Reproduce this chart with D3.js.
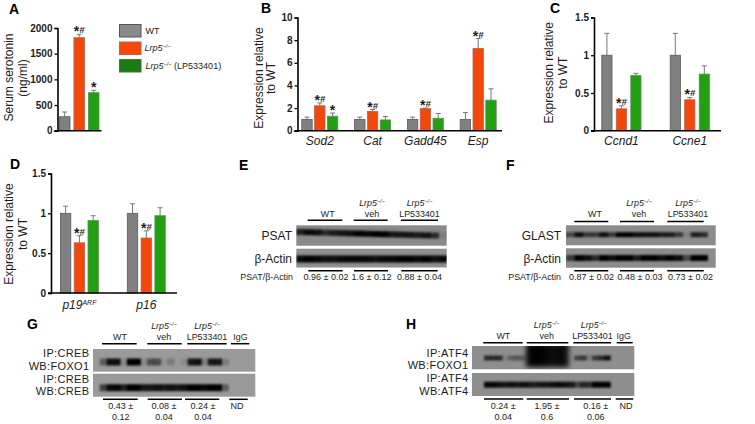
<!DOCTYPE html>
<html><head><meta charset="utf-8">
<script src="https://cdn.jsdelivr.net/npm/d3@7"></script>
<style>html,body{margin:0;padding:0;background:#fff}svg{display:block}text{font-family:"Liberation Sans",Arial,sans-serif;fill:#1c1c1c}</style>
</head><body><svg id="c" width="755" height="424"></svg>
<script>
// ---- data ----
const seriesNames = ["WT", "Lrp5", "Lrp5 (LP533401)"];
const catA = ["Serum serotonin"];
const wtA = [272], koA = [1811], lpA = [740];
const wtAe = [92], koAe = [66], lpAe = [47];
const marksA = [["", "*#", "*"]];
const catB = ["Sod2", "Cat", "Gadd45", "Esp"];
const wtB = [1, 1, 1, 1], koB = [2.2, 1.7, 1.95, 7.26], lpB = [1.28, 0.95, 1.1, 2.7];
const wtBe = [0.2, 0.2, 0.2, 0.6], koBe = [0.25, 0.17, 0.05, 0.88], lpBe = [0.28, 0.3, 0.42, 1];
const marksB = [["", "*#", "*"], ["", "*#", ""], ["", "*#", ""], ["", "*#", ""]];
const catC = ["Ccnd1", "Ccne1"];
const wtC = [1, 1], koC = [0.29, 0.41], lpC = [0.73, 0.75];
const wtCe = [0.29, 0.29], koCe = [0.04, 0.03], lpCe = [0.03, 0.11];
const marksC = [["", "*#", ""], ["", "*#", ""]];
const catD = ["p19", "p16"];
const wtD = [1, 1], koD = [0.63, 0.69], lpD = [0.91, 0.97];
const wtDe = [0.09, 0.12], koDe = [0.09, 0.09], lpDe = [0.06, 0.1];
const marksD = [["", "*#", ""], ["", "*#", ""]];
const ticksA = [0, 500, 1000, 1500, 2000], ticksB = [0, 2, 4, 6, 8, 10], ticksC = [0, 0.5, 1, 1.5];
// blot density profiles (one value per lane slice)
const psat = [.8,.95,.9,.7,.8,.85,.9,1,.95,1,1,.85,.85,.85,.8,.85,.7,.1];
const actinE = [.95,1,.95,.9,.9,.95,.95,.95,.95,.9,.95,.95,1,1,.95,1,.9,.95];
const glast = [.5,.9,.6,.6,.9,.6,1,1,.9,.9,.9,.8,.8,.6,.1,.8,.7,0];
const actinF = [.6,1,.9,.7,1,.9,1,1,.8,1,1,.9,1,.9,.5,1,1,0];
const gFoxo = [0,.4,.9,.9,.1,1,1,.1,.5,.5,.05,.2,0,.1,.85,.9,.2,.85,.85,.2,0,0,0,0];
const gCreb = [0,.6,.95,.95,.8,1,1,.85,.85,.9,.85,.9,.85,.9,1,1,.95,1,1,.4,0,0,0,0];
const hFoxo = [0,0,.7,.7,.7,.1,.35,.4,.3,0,0,0,0,0,0,0,0,.5,.6,.15,.6,.7,.9,0,0,0,0];
const hFoxoBlob = [0,0,0,0,0,0,0,0,0,.95,1,1,.95,.9,.95,.9,0,0,0,0,0,0,0,0,0,0,0];
const hAtf = [0,0,.95,.95,.9,.85,.9,.85,.9,.85,.8,.85,.85,.9,.95,.9,.85,.55,.75,.7,1,1,1,0,0,0,0];
const valuesE = ["0.96 ± 0.02", "1.6 ± 0.12", "0.88 ± 0.04"];
const valuesF = ["0.87 ± 0.02", "0.48 ± 0.03", "0.73 ± 0.02"];
const valuesG = [["0.43 ±", "0.12"], ["0.08 ±", "0.04"], ["0.24 ±", "0.04"], ["ND", ""]];
const valuesH = [["0.24 ±", "0.04"], ["1.95 ±", "0.6"], ["0.16 ±", "0.06"], ["ND", ""]];

// ---- helpers ----
const svg = d3.select("#c");
const colors = d3.scaleOrdinal(seriesNames, ["#808080", "#f2480c", "#22a012"]);
const strokes = d3.scaleOrdinal(seriesNames, ["#5a5a5a", "#b9634a", "#5c8f55"]);
const defs = svg.append("defs");
[["blur", 1.0], ["big", 2.4], ["soft", 0.5]].forEach(([id, s]) =>
  defs.append("filter").attr("id", id).attr("x", "-20%").attr("y", "-80%").attr("width", "140%").attr("height", "260%")
    .append("feGaussianBlur").attr("stdDeviation", s));

function txt(x, y, s, o = {}) {
  const t = svg.append("text").attr("x", x).attr("y", y).text(s)
    .attr("font-size", o.size || 10).attr("text-anchor", o.anchor || "start");
  if (o.bold) t.attr("font-weight", "bold");
  if (o.italic) t.attr("font-style", "italic");
  if (o.rot) t.attr("transform", `rotate(-90 ${x} ${y})`);
  return t;
}
function two(x, y, a, b) {
  txt(x, y, a, { size: 11, anchor: "end" }).style("letter-spacing", ".35px");
  txt(x, y + 12.7, b, { size: 11, anchor: "end" }).style("letter-spacing", ".35px");
}
function lrp(x, y, size, anchor, extra) {
  const t = svg.append("text").attr("x", x).attr("y", y).attr("font-size", size).attr("text-anchor", anchor || "start");
  t.append("tspan").attr("font-style", "italic").text("Lrp5");
  t.append("tspan").attr("font-style", "italic").attr("font-size", size * .62).attr("dy", -size * .36).text("−/−");
  if (extra) t.append("tspan").attr("dy", size * .36).text(extra);
  return t;
}
function panel(o) {
  const y = d3.scaleLinear().domain(o.domain).range([o.y0, o.y1]);
  const cx = d3.scalePoint().domain(o.cats).range(o.cats.length > 1 ? [o.c0, o.c1] : [o.c0, o.c0]);
  const inner = d3.scaleBand().domain(seriesNames).range([-1.5 * o.step, 1.5 * o.step]);
  const g = svg.append("g");
  o.series.forEach((vals, si) => {
    const nm = seriesNames[si];
    const gg = g.append("g").selectAll("g").data(o.cats).join("g");
    const bx = c => cx(c) + inner(nm) + (o.step - o.barW) / 2;
    const mid = c => cx(c) + inner(nm) + o.step / 2;
    gg.append("line").attr("x1", mid).attr("x2", mid)
      .attr("y1", (c, i) => y(vals[i])).attr("y2", (c, i) => y(vals[i] + o.errs[si][i]))
      .attr("stroke", "#777").attr("stroke-width", 1);
    gg.append("line").attr("x1", c => mid(c) - 2.5).attr("x2", c => mid(c) + 2.5)
      .attr("y1", (c, i) => y(vals[i] + o.errs[si][i])).attr("y2", (c, i) => y(vals[i] + o.errs[si][i]))
      .attr("stroke", "#777").attr("stroke-width", 1);
    gg.append("rect").attr("x", bx).attr("width", o.barW)
      .attr("y", (c, i) => y(vals[i])).attr("height", (c, i) => o.y0 - y(vals[i]))
      .attr("fill", colors(nm)).attr("stroke", strokes(nm)).attr("stroke-width", .8);
    o.cats.forEach((c, i) => {
      const m = o.marks[i][si];
      if (!m) return;
      const ty = y(vals[i] + o.errs[si][i]) - 1;
      const t = svg.append("text").attr("x", mid(c)).attr("y", ty).attr("text-anchor", "middle");
      t.append("tspan").attr("font-size", 14).attr("font-weight", "bold").attr("dy", 3).text("*");
      if (m.includes("#")) t.append("tspan").attr("font-size", 9.5).attr("font-style", "italic").attr("font-weight", "bold").attr("dy", -3).text("#");
    });
  });
  const yAxis = d3.axisLeft(y).tickValues(o.ticks).tickSize(3).tickPadding(2).tickFormat(d => d);
  const ga = svg.append("g").attr("transform", `translate(${o.ax},0)`).call(yAxis);
  ga.select(".domain").attr("stroke", "#000").attr("stroke-width", 1.6);
  ga.selectAll(".tick line").attr("stroke", "#000").attr("stroke-width", 1.3);
  ga.selectAll("text").attr("font-size", 10).attr("font-weight", "bold").attr("fill", "#111")
    .attr("font-family", '"Liberation Sans",Arial,sans-serif');
  svg.append("line").attr("x1", o.ax - 3).attr("x2", o.bx).attr("y1", o.y0).attr("y2", o.y0)
    .attr("stroke", "#000").attr("stroke-width", 1.6);
  if (o.showCats !== false) o.cats.forEach(c => {
    const t = txt(cx(c), o.catY, c, { size: 12, italic: true, anchor: "middle" });
    if (c === "p19") t.append("tspan").attr("font-size", 7).attr("dy", -4).text("ARF");
  });
}
const letter = (x, y, s) => txt(x, y, s, { size: 14, bold: true }).style("fill", "#000");
function hbars(y, spans) {
  svg.append("g").selectAll("line").data(spans).join("line")
    .attr("x1", d => d[0]).attr("x2", d => d[1]).attr("y1", y).attr("y2", y)
    .attr("stroke", "#000").attr("stroke-width", 1.5);
}
let clipN = 0;
function strip(x0, x1, y0, y1, bandY, thick, profile, bg, o = {}) {
  const g = svg.append("g");
  if (bg) g.append("rect").attr("x", x0).attr("y", y0).attr("width", x1 - x0).attr("height", y1 - y0).attr("fill", bg).attr("filter", "url(#soft)");
  const lane = d3.scaleBand().domain(d3.range(profile.length)).range([x0, x1]);
  const clip = "cl" + (clipN++);
  defs.append("clipPath").attr("id", clip).append("rect").attr("x", x0).attr("y", y0).attr("width", x1 - x0).attr("height", y1 - y0);
  const tilt = o.tilt || 0;
  g.append("g").attr("clip-path", `url(#${clip})`).append("g").attr("filter", `url(#${o.filter || "blur"})`)
    .selectAll("rect").data(profile).join("rect")
    .attr("x", (d, i) => lane(i)).attr("width", lane.bandwidth() + .5)
    .attr("y", (d, i) => bandY + tilt * i / profile.length - thick / 2)
    .attr("height", thick)
    .attr("fill", "#000").attr("fill-opacity", d => d);
}

// ---- bar panels ----
letter(9, 14, "A");
txt(12.5, 77.5, "Serum serotonin", { size: 12, anchor: "middle", rot: true });
txt(27, 78, "(ng/ml)", { size: 12, anchor: "middle", rot: true });
panel({ cats: catA, series: [wtA, koA, lpA], errs: [wtAe, koAe, lpAe], marks: marksA, domain: [0, 2000], y0: 130.7, y1: 28,
  c0: 79.2, step: 14.5, barW: 10.6, ticks: ticksA, ax: 57.5, bx: 101.5, showCats: false });

// legend
const leg = svg.append("g").selectAll("rect").data(seriesNames).join("rect");
const legY = d3.scalePoint().domain(seriesNames).range([24.5, 59.5]);
leg.attr("x", 119.5).attr("width", 21.5).attr("y", d => legY(d)).attr("height", 12.5)
  .attr("fill", (d, i) => ["#8b8b8b", "#f5480a", "#1d7a10"][i]).attr("stroke", (d, i) => ["#555", "#b9634a", "#3f7a38"][i]);
txt(145.5, 34, "WT", { size: 9 });
lrp(144.5, 51, 9);
lrp(145.5, 69, 9, "start", " (LP533401)");

letter(261, 13, "B");
txt(263, 78, "Expression relative", { size: 12, anchor: "middle", rot: true });
txt(275, 78, "to WT", { size: 12, anchor: "middle", rot: true });
panel({ cats: catB, series: [wtB, koB, lpB], errs: [wtBe, koBe, lpBe], marks: marksB, domain: [0, 10], y0: 130.7, y1: 17.5,
  c0: 319.8, c1: 478.2, step: 12.8, barW: 10.4, ticks: ticksB, ax: 297.5, bx: 502, catY: 145 });

letter(550, 13, "C");
txt(553.5, 72.7, "Expression relative", { size: 12, anchor: "middle", rot: true });
txt(567, 72.7, "to WT", { size: 12, anchor: "middle", rot: true });
panel({ cats: catC, series: [wtC, koC, lpC], errs: [wtCe, koCe, lpCe], marks: marksC, domain: [0, 1.5], y0: 130.7, y1: 17.5,
  c0: 621.4, c1: 689.8, step: 14.5, barW: 10.2, ticks: ticksC, ax: 594, bx: 721, catY: 145 });

letter(10, 169, "D");
txt(13, 234, "Expression relative", { size: 12, anchor: "middle", rot: true });
txt(27, 234, "to WT", { size: 12, anchor: "middle", rot: true });
panel({ cats: catD, series: [wtD, koD, lpD], errs: [wtDe, koDe, lpDe], marks: marksD, domain: [0, 1.5], y0: 293, y1: 173.5,
  c0: 79.4, c1: 146.3, step: 13.8, barW: 10.4, ticks: ticksC, ax: 51, bx: 177, catY: 309 });

// ---- blots E ----
letter(239, 170, "E");
strip(296.3, 446.7, 225.3, 245.7, 232, 6, psat, "#8a8a8a", { tilt: 4 });
strip(296.3, 446.7, 248.7, 267.5, 259, 7, actinE, "#8f8f8f");
hbars(220.3, [[307.7, 342.3], [353.7, 387.7], [401, 438]]);
hbars(270.7, [[308.3, 342.7], [354, 388], [401.3, 437.7]]);
txt(327.7, 217, "WT", { size: 8.9, anchor: "middle" });
lrp(372, 206, 8.9, "middle"); txt(372, 217, "veh", { size: 8.9, anchor: "middle" });
lrp(419.5, 206, 8.9, "middle"); txt(419.5, 217, "LP533401", { size: 8.9, anchor: "middle" });
txt(292, 240, "PSAT", { size: 12, anchor: "end" });
txt(292, 263, "β-Actin", { size: 12, anchor: "end" });
txt(293, 280, "PSAT/β-Actin", { size: 8.9, anchor: "end" });
[326, 371.5, 419.5].forEach((x, i) => txt(x, 280, valuesE[i], { size: 9, anchor: "middle" }));

// ---- blots F ----
letter(506, 170, "F");
strip(566, 715.7, 225.3, 245.3, 234.7, 5, glast, "#8c8c8c");
strip(566, 715.7, 248.3, 267.7, 258, 6, actinF, "#8c8c8c");
hbars(221.5, [[574.3, 608.3], [620, 654], [667.3, 703.7]]);
hbars(270.7, [[574.3, 608.3], [620, 654], [667.3, 703.7]]);
txt(595, 217, "WT", { size: 8.9, anchor: "middle" });
lrp(639, 206, 8.9, "middle"); txt(639, 217, "veh", { size: 8.9, anchor: "middle" });
lrp(688, 206, 8.9, "middle"); txt(688, 217, "LP533401", { size: 8.9, anchor: "middle" });
txt(561, 240, "GLAST", { size: 12, anchor: "end" });
txt(561, 263, "β-Actin", { size: 12, anchor: "end" });
txt(561, 280, "PSAT/β-Actin", { size: 8.9, anchor: "end" });
[591.5, 640, 690.5].forEach((x, i) => txt(x, 280, valuesF[i], { size: 9, anchor: "middle" }));

// ---- blots G ----
letter(27, 329, "G");
strip(93, 255.3, 349, 371.7, 362, 7, gFoxo, "#9a9a9a");
strip(93, 255.3, 373.7, 396.7, 387.7, 7, gCreb, "#9a9a9a");
hbars(343.7, [[102, 136.7], [147.3, 181.7], [187.3, 226.7], [231, 249.3]]);
hbars(399.3, [[103, 137.7], [147.7, 182], [185, 219.3], [229.3, 247.7]]);
txt(120, 340, "WT", { size: 8.9, anchor: "middle" });
lrp(164, 329, 8.9, "middle"); txt(164, 340, "veh", { size: 8.9, anchor: "middle" });
lrp(207, 329, 8.9, "middle"); txt(207, 340, "LP533401", { size: 8.9, anchor: "middle" });
txt(240.5, 340, "IgG", { size: 8.9, anchor: "middle" });
two(89.5, 357, "IP:CREB", "WB:FOXO1");
two(89.5, 382.5, "IP:CREB", "WB:CREB");
[120.7, 164, 203, 237].forEach((x, i) => {
  txt(x, 408.5, valuesG[i][0], { size: 9, anchor: "middle" });
  if (valuesG[i][1]) txt(x, 419.5, valuesG[i][1], { size: 9, anchor: "middle" });
});

// ---- blots H ----
letter(406, 329, "H");
strip(472, 634.3, 346, 369.3, 358, 5, hFoxo, "#8e8e8e");
strip(472, 634.3, 346, 369.3, 355, 24, hFoxoBlob, null, { filter: "big" });
strip(472, 634.3, 373, 396, 384.7, 6, hAtf, "#8e8e8e");
hbars(342.7, [[483.3, 522.7], [526.7, 568.3], [573.3, 611], [616.7, 632.7]]);
hbars(399, [[484, 523.3], [526.7, 569], [574, 611], [615.7, 633.3]]);
txt(503.3, 339, "WT", { size: 8.9, anchor: "middle" });
lrp(546.7, 328, 8.9, "middle"); txt(546.7, 339, "veh", { size: 8.9, anchor: "middle" });
lrp(593.7, 328, 8.9, "middle"); txt(592.5, 339, "LP533401", { size: 8.9, anchor: "middle" });
txt(623.7, 339, "IgG", { size: 8.9, anchor: "middle" });
two(468.5, 356.5, "IP:ATF4", "WB:FOXO1");
two(468.5, 382, "IP:ATF4", "WB:ATF4");
[503.3, 547, 595.7, 626].forEach((x, i) => {
  txt(x, 408.5, valuesH[i][0], { size: 9, anchor: "middle" });
  if (valuesH[i][1]) txt(x, 419.5, valuesH[i][1], { size: 9, anchor: "middle" });
});
</script></body></html>
